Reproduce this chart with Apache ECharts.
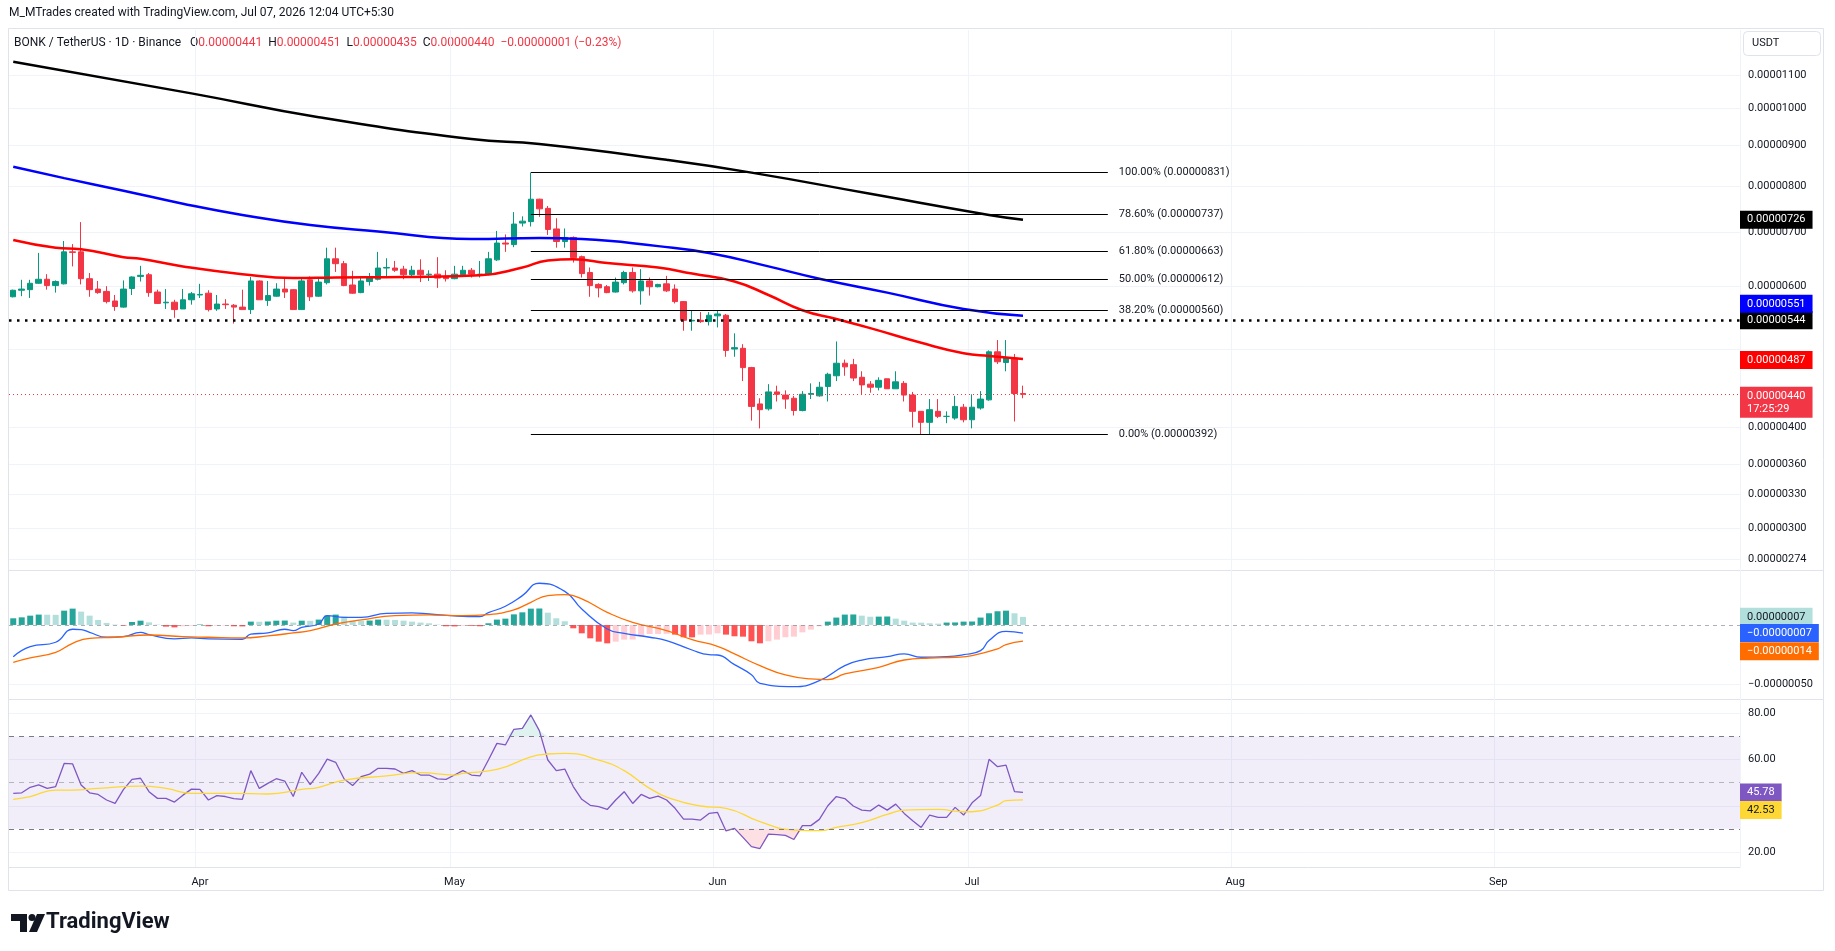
<!DOCTYPE html>
<html>
<head>
<meta charset="utf-8">
<title>BONK / TetherUS 1D</title>
<script src="https://cdn.jsdelivr.net/npm/echarts@6.0.0/dist/echarts.min.js"></script>
<style>
html, body { margin: 0; padding: 0; background: #fff; }
#chart { width: 1835px; height: 951px; }
</style>
</head>
<body>
<div id="chart"></div>
<script>
var chart = echarts.init(document.getElementById('chart'));
var FONT = 'Roboto, "Noto Sans", sans-serif';

// x axis: one category per day, Mar 10 .. Sep 29 2026
var dates = [];
for (var d = new Date(Date.UTC(2026, 2, 10)); d <= new Date(Date.UTC(2026, 8, 29)); d.setUTCDate(d.getUTCDate() + 1)) {
    dates.push(d.toISOString().slice(0, 10));
}
var months = ['Jan', 'Feb', 'Mar', 'Apr', 'May', 'Jun', 'Jul', 'Aug', 'Sep', 'Oct', 'Nov', 'Dec'];

// prices are kept in units of 1e-8 USDT (441 -> 0.00000441), one value per day from Mar 10
var openP = [582,593,594,605,612,601,604,662,662,613, 595,591,575,565,596,617,620,590,572,573,
    562,577,585,588,562,570,568,565,561,609, 576,583,595,594,561,611,583,606,649,640,
    602,589,608,612,632,632,630,620,628,620, 621,617,613,620,628,620,620,647,679,676,
    719,722,770,750,707,682,690,653,624,603, 599,590,606,624,592,609,599,604,595,574,
    543,544,542,551,552,501,502,475,428,422, 443,439,435,420,440,438,450,464,481,479,
    462,453,449,460,447,454,439,419,406,419, 413,411,424,409,423,433,497,482,488,441];
var highP = [594,611,611,660,621,610,683,677,721,623, 609,600,585,610,617,636,623,594,595,577,
    595,590,604,593,585,578,570,594,616,610, 609,605,613,595,613,617,616,670,670,645,
    627,617,623,662,650,645,636,636,648,628, 652,628,636,636,632,645,662,703,696,742,
    733,831,771,755,729,708,692,655,633,605, 602,615,627,633,630,615,604,618,603,575,
    560,557,557,560,554,524,508,476,435,453, 451,445,438,444,454,456,468,512,486,487,
    470,457,462,460,470,457,443,419,434,434, 419,438,428,440,444,499,514,514,494,451];
var lowP = [581,583,580,604,594,589,603,635,603,582, 587,571,559,564,585,608,582,570,562,548,
    562,569,580,558,559,562,539,561,554,577, 567,582,580,561,561,575,582,603,625,600,
    587,588,601,610,614,625,612,617,607,609, 597,608,612,618,615,615,619,645,662,671,
    712,712,732,695,670,670,642,615,582,581, 588,589,603,589,569,584,598,590,571,528,
    528,540,536,533,490,490,457,408,399,420, 431,422,414,419,434,437,431,457,464,457,
    439,442,445,447,447,431,400,392,392,411, 405,409,406,399,421,432,480,470,407,435];
var closeP = [593,595,605,612,601,608,662,661,613,594, 589,574,566,595,616,619,589,571,573,561,
    577,587,586,561,570,569,565,561,609,577, 584,595,590,561,609,582,607,649,640,601,
    588,609,616,632,633,628,620,628,620,621, 614,613,621,628,621,621,649,679,677,717,
    723,770,749,706,682,690,651,622,601,597, 589,607,624,592,609,599,603,592,574,544,
    544,542,552,554,499,503,475,425,421,443, 440,434,420,440,441,449,466,481,476,461,
    452,449,458,447,456,439,419,406,421,413, 413,425,409,424,434,497,483,489,441,440];

var ma200 = [[0,1142],[21,1043],[36,974],[54,915],[62,902],[77,862],[87,831],[101,782],[115,736],[119,726]];
var ma100 = [[0,845],[6,818],[13,789],[20,760],[27,736],[35,715],[43,702],[54,687],[62,689],[67,687],
    [76,673],[82,660],[89,635],[95,613],[103,589],[112,562],[119,551]];
var ma50 = [[0,685],[5,670],[8,667],[13,652],[15,649],[20,635],[27,621],[33,614],[38,615],[46,616],
    [55,619],[60,633],[63,646],[66,648],[70,641],[76,633],[80,622],[85,608],[89,585],[93,560],
    [97,546],[101,532],[107,510],[112,495],[115,491],[119,487]];

// fibonacci retracement (May 10 high -> low), drawn May 10 .. Jul 17
var fibNames = ['100.00%', '78.60%', '61.80%', '50.00%', '38.20%', '0.00%'];
var fibPrices = [831, 737, 663, 612, 560, 392];
var fibFrom = 61, fibTo = 129;
var supportLevel = 544;

// MACD, units of 1e-8
var macdHist = [5.6,6.4,7.8,8.7,8.6,8.5,12.0,13.7,11.2,7.8, 4.2,1.7,0.3,-0.5,2.5,3.6,2.2,0.3,-1.4,-2.0,
    -1.1,-0.6,0.4,-1.1,-0.6,-0.5,-1.1,-1.2,2.8,2.7, 2.9,3.6,3.7,2.0,3.6,3.5,4.5,7.8,8.7,7.0,
    3.6,3.5,3.7,4.5,4.4,4.2,3.6,2.8,2.0,1.4, 0.3,-1.1,-1.2,-0.6,-0.7,-1.1,1.4,4.5,5.3,8.9,
    10.6,13.7,13.8,10.3,5.6,3.1,-2.8,-7.0,-11.2,-14.0, -15.4,-14.0,-12.3,-12.2,-9.2,-7.6,-7.5,-7.4,-8.1,-10.3,
    -10.4,-8.1,-8.0,-7.0,-8.1,-9.5,-9.8,-13.7,-15.4,-13.7, -12.3,-10.3,-9.8,-6.2,-3.9,-1.1,2.8,6.2,8.7,8.8,
    7.8,6.9,7.0,7.1,5.3,3.6,2.0,1.9,1.4,1.1, 2.0,2.1,2.8,2.9,6.2,9.8,11.5,12.0,9.8,6.8];
var macdLine = [[0,-26.6],[2,-18.2],[5,-14.5],[7,-3.6],[8,-3.9],[9,-6.2],[11,-10.3],[13,-9.8],[15,-6.2],[16,-8.1],
    [19,-11.7],[21,-10.9],[23,-11.7],[27,-12.0],[28,-7.6],[30,-6.7],[32,-3.6],[33,-4.8],[34,-2.0],[36,0.8],
    [37,7.8],[39,6.4],[41,6.4],[44,9.8],[47,10.1],[49,9.2],[52,7.6],[55,7.0],[56,10.3],[58,15.7],
    [60,24.6],[62,35.0],[65,28.2],[67,13.4],[70,-3.4],[72,-7.0],[75,-10.3],[77,-13.1],[80,-21.0],[82,-24.9],
    [83,-25.2],[85,-33.3],[87,-41.7],[88,-48.9],[92,-51.7],[95,-46.7],[98,-34.1],[100,-29.4],[103,-26.6],[105,-24.3],
    [107,-27.1],[110,-26.6],[112,-24.9],[114,-21.5],[115,-13.1],[117,-5.3],[119,-6.8]];
var signalLine = [[0,-31.3],[2,-27.7],[5,-22.9],[7,-15.4],[9,-11.2],[12,-10.3],[16,-8.4],[20,-9.8],[23,-10.3],[27,-10.9],
    [30,-9.2],[33,-6.7],[35,-4.8],[38,0.8],[41,4.2],[45,7.8],[49,8.4],[53,7.8],[56,8.7],[59,12.6],
    [61,19.0],[63,24.6],[65,25.4],[67,21.8],[70,10.6],[73,2.2],[77,-4.8],[80,-12.3],[83,-17.9],[85,-24.3],
    [88,-34.1],[91,-41.9],[94,-45.3],[96,-45.9],[98,-41.1],[102,-35.5],[105,-29.4],[108,-27.7],[111,-27.1],[113,-25.7],
    [116,-20.1],[117,-16.5],[119,-13.6]];

// RSI(14) and its moving average
var rsi = [45.4,45.6,48,49,47.5,48.3,58.3,58.1,49,45.6, 44.9,42.5,41.0,47.1,51.4,51.9,46.1,43.2,43.2,41.6,
    44.6,47.2,47.1,42.5,44.4,44.0,43.1,42.8,55.2,47.5, 49.7,51.7,50.7,44.0,54.5,49.1,54.0,60.2,58.8,51.6,
    48.8,52.6,53.7,56.2,56.2,55.9,54.0,55.2,53.3,53.3, 51.6,51.4,53.3,55.2,53.3,52.9,59.8,67.0,66.3,73.1,
    73.5,79.3,72.5,59.8,55.2,55.9,48.3,42.8,40.2,39.6, 38.4,42.5,46.1,41.0,44.9,43.2,44.2,42.5,38.9,34.2,
    34.2,33.8,36.7,37.1,29.1,30.2,26.3,22.3,21.5,27.7, 27.5,27.2,25.4,31.4,31.4,34.1,40.0,44.0,43.1,39.9,
    38.1,37.8,40.3,38.1,40.7,36.7,33.5,30.6,36.0,35.0, 35.0,39.3,36.0,41.3,44.4,60.1,56.9,57.6,46.1,45.78];
var rsiMa = [[0,42.8],[2,44],[5,46.8],[7,46.8],[10,47.5],[15,48.5],[18,47.5],[21,45.4],[26,45.4],[30,45.1],
    [34,47.1],[36,48],[39,51.1],[44,52.9],[48,54.3],[52,53.3],[53,54],[57,55.7],[61,61.2],[63,62.4],
    [65,62.7],[69,59.8],[72,55.2],[75,47.5],[78,42.5],[81,39.9],[84,38.9],[88,33.1],[92,29.5],[95,29.2],
    [97,30.6],[100,32.7],[103,36.3],[105,38.1],[109,38.4],[112,37.4],[113,37.4],[116,40.3],[117,42.2],[119,42.53]];

// axis ticks
var priceTicks = [1100, 1000, 900, 800, 700, 600, 400, 360, 330, 300, 274];
var priceGrid = [1100, 1000, 900, 800, 700, 600, 500, 400, 360, 330, 300, 274];
var macdTicks = [-50];
var rsiTicks = [20, 60, 80];
var rsiGrid = [20, 40, 60, 80];

function fmt(v) {
    var s = (Math.abs(v) / 1e8).toFixed(8);
    return v < 0 ? '\u2212' + s : s;
}
function last(a) { return a[a.length - 1]; }
function pts(a) { return a.map(function (p) { return [p[0], p[1]]; }); }

// price tag on the right scale
function tagLabel(text, bg, fg, dy) {
    return {
        show: true, position: 'end', distance: 0, formatter: text, opacity: 1,
        color: fg || '#fff', backgroundColor: bg, padding: [3, 7, 2, 7],
        fontSize: 11, lineHeight: 13, fontFamily: FONT, offset: [0, dy || 0]
    };
}
function tag(value, text, bg, fg, dy) {
    return {
        yAxis: value,
        lineStyle: { color: 'rgba(0,0,0,0)', width: 0 },
        label: tagLabel(text, bg, fg, dy)
    };
}

var isMonthStart = function (i, v) { return v.slice(8) === '01'; };
function xAxisFor(gi, withLabels) {
    return {
        type: 'category', gridIndex: gi, data: dates, boundaryGap: true,
        axisLine: { show: withLabels, lineStyle: { color: '#e0e3eb' } },
        axisTick: { show: false },
        axisLabel: {
            show: withLabels, interval: isMonthStart, margin: 10,
            formatter: function (v) { return months[+v.slice(5, 7) - 1]; },
            color: '#131722', fontSize: 11, fontFamily: FONT
        },
        splitLine: { show: true, interval: isMonthStart, lineStyle: { color: '#f0f3fa' } }
    };
}
function yLabel(values, formatter) {
    return { customValues: values, formatter: formatter, color: '#131722', fontSize: 11, fontFamily: FONT, margin: 8 };
}

var candles = openP.map(function (o, i) { return [o, closeP[i], lowP[i], highP[i]]; });
var histData = macdHist.map(function (v, i) {
    var prev = i > 0 ? macdHist[i - 1] : 0;
    var c = v >= 0 ? (v >= prev ? '#26A69A' : '#B2DFDB') : (v <= prev ? '#FF5252' : '#FFCDD2');
    return { value: v, itemStyle: { color: c } };
});

var fibLines = fibPrices.map(function (p, k) {
    return [
        { coord: [fibFrom, p], label: { formatter: fibNames[k] + ' (' + fmt(p) + ')' } },
        { coord: [fibTo, p] }
    ];
});

var n = closeP.length;
var chg = closeP[n - 1] - closeP[n - 2];
var chgPct = (chg / closeP[n - 2] * 100).toFixed(2);
var header = '{k|BONK / TetherUS \u00b7 1D \u00b7 Binance}   ' +
    '{k|O}{r|' + fmt(openP[n - 1]) + '}  {k|H}{r|' + fmt(highP[n - 1]) + '}  ' +
    '{k|L}{r|' + fmt(lowP[n - 1]) + '}  {k|C}{r|' + fmt(closeP[n - 1]) + '}  ' +
    '{r|' + fmt(chg) + ' (' + (chg < 0 ? '\u2212' : '') + Math.abs(chgPct) + '%)}';

var option = {
    animation: false,
    backgroundColor: '#fff',
    textStyle: { fontFamily: FONT },
    grid: [
        { left: 9, right: 95, top: 30, height: 540, outerBoundsMode: 'none' },
        { left: 9, right: 95, top: 570, height: 129, outerBoundsMode: 'none' },
        { left: 9, right: 95, top: 699, height: 168, outerBoundsMode: 'none' }
    ],
    xAxis: [xAxisFor(0, false), xAxisFor(1, false), xAxisFor(2, true)],
    yAxis: [
        {
            type: 'log', logBase: 10, gridIndex: 0, position: 'right', min: 265.8, max: 1251,
            axisLine: { show: false },
            axisTick: { show: false, customValues: priceGrid },
            axisLabel: yLabel(priceTicks, fmt),
            splitLine: { show: true, lineStyle: { color: '#f0f3fa' } }
        },
        {
            type: 'value', gridIndex: 1, position: 'right', min: -62.1, max: 46.1,
            axisLine: { show: false },
            axisTick: { show: false, customValues: macdTicks },
            axisLabel: yLabel(macdTicks, fmt),
            splitLine: { show: true, lineStyle: { color: '#f0f3fa' } }
        },
        {
            type: 'value', gridIndex: 2, position: 'right', min: 13.5, max: 86.2,
            axisLine: { show: false },
            axisTick: { show: false, customValues: rsiGrid },
            axisLabel: yLabel(rsiTicks, function (v) { return v.toFixed(2); }),
            splitLine: { show: true, lineStyle: { color: '#f0f3fa' } }
        }
    ],
    series: [
        {
            name: 'BONKUSDT', type: 'candlestick', xAxisIndex: 0, yAxisIndex: 0,
            data: candles, barWidth: 6,
            itemStyle: { color: '#089981', color0: '#F23645', borderColor: '#089981', borderColor0: '#F23645', borderWidth: 1 },
            markLine: {
                silent: true, symbol: 'none', animation: false,
                lineStyle: { color: '#000', width: 1, type: 'solid' },
                label: { show: true, position: 'end', distance: 11, color: '#131722', fontSize: 11, fontFamily: FONT },
                data: fibLines.concat([
                    {
                        yAxis: supportLevel,
                        lineStyle: { color: '#000', width: 2.5, type: [2.5, 5.5] },
                        label: tagLabel(fmt(supportLevel), '#000')
                    },
                    {
                        yAxis: closeP[n - 1],
                        lineStyle: { color: '#F23645', width: 1, type: [1, 3] },
                        label: tagLabel(fmt(closeP[n - 1]) + '\n17:25:29', '#F23645', '#fff', 8)
                    }
                ])
            }
        },
        {
            name: 'MA200', type: 'line', xAxisIndex: 0, yAxisIndex: 0, data: pts(ma200), smooth: true,
            showSymbol: false, lineStyle: { color: '#000', width: 2.5 },
            markLine: { silent: true, symbol: 'none', data: [tag(last(ma200)[1], fmt(last(ma200)[1]), '#000')] }
        },
        {
            name: 'MA100', type: 'line', xAxisIndex: 0, yAxisIndex: 0, data: pts(ma100), smooth: true,
            showSymbol: false, lineStyle: { color: '#0000FF', width: 2.5 },
            markLine: { silent: true, symbol: 'none', data: [tag(last(ma100)[1], fmt(last(ma100)[1]), '#0000FF', '#fff', -12)] }
        },
        {
            name: 'MA50', type: 'line', xAxisIndex: 0, yAxisIndex: 0, data: pts(ma50), smooth: true,
            showSymbol: false, lineStyle: { color: '#FF0000', width: 2.5 },
            markLine: { silent: true, symbol: 'none', data: [tag(last(ma50)[1], fmt(last(ma50)[1]), '#FF0000', '#fff', 1)] }
        },
        {
            name: 'Histogram', type: 'bar', xAxisIndex: 1, yAxisIndex: 1, data: histData, barWidth: 6,
            markLine: {
                silent: true, symbol: 'none',
                data: [
                    { yAxis: 0, lineStyle: { color: 'rgba(120,123,134,0.6)', width: 1, type: [4, 4] }, label: { show: false } },
                    tag(last(macdHist), fmt(last(macdHist)), '#B2DFDB', '#131722')
                ]
            }
        },
        {
            name: 'MACD', type: 'line', xAxisIndex: 1, yAxisIndex: 1, data: pts(macdLine), smooth: true,
            showSymbol: false, lineStyle: { color: '#2962FF', width: 1.3 },
            markLine: { silent: true, symbol: 'none', data: [tag(last(macdLine)[1], fmt(last(macdLine)[1]), '#2962FF')] }
        },
        {
            name: 'Signal', type: 'line', xAxisIndex: 1, yAxisIndex: 1, data: pts(signalLine), smooth: true,
            showSymbol: false, lineStyle: { color: '#FF6D00', width: 1.3 },
            markLine: { silent: true, symbol: 'none', data: [tag(last(signalLine)[1], fmt(last(signalLine)[1]), '#FF6D00', '#fff', 10)] }
        },
        {
            name: 'RSI overbought', type: 'line', xAxisIndex: 2, yAxisIndex: 2, silent: true,
            data: rsi.map(function (v) { return Math.max(v, 70); }),
            showSymbol: false, lineStyle: { width: 0 },
            areaStyle: { origin: 70, color: 'rgba(8,153,129,0.18)' }
        },
        {
            name: 'RSI oversold', type: 'line', xAxisIndex: 2, yAxisIndex: 2, silent: true,
            data: rsi.map(function (v) { return Math.min(v, 30); }),
            showSymbol: false, lineStyle: { width: 0 },
            areaStyle: { origin: 30, color: 'rgba(242,54,69,0.22)' }
        },
        {
            name: 'RSI', type: 'line', xAxisIndex: 2, yAxisIndex: 2, data: rsi,
            showSymbol: false, lineStyle: { color: '#7E57C2', width: 1.3 },
            markArea: { silent: true, itemStyle: { color: 'rgba(126,87,194,0.1)' }, data: [[{ yAxis: 30 }, { yAxis: 70 }]] },
            markLine: {
                silent: true, symbol: 'none',
                data: [
                    { yAxis: 70, lineStyle: { color: '#787B86', width: 1, type: [5, 5] }, label: { show: false } },
                    { yAxis: 50, lineStyle: { color: 'rgba(120,123,134,0.5)', width: 1, type: [5, 5] }, label: { show: false } },
                    { yAxis: 30, lineStyle: { color: '#787B86', width: 1, type: [5, 5] }, label: { show: false } },
                    tag(last(rsi), last(rsi).toFixed(2), '#7E57C2')
                ]
            }
        },
        {
            name: 'RSI MA', type: 'line', xAxisIndex: 2, yAxisIndex: 2, data: pts(rsiMa), smooth: true,
            showSymbol: false, lineStyle: { color: '#FDD835', width: 1.3 },
            markLine: { silent: true, symbol: 'none', data: [tag(last(rsiMa)[1], last(rsiMa)[1].toFixed(2), '#FDD835', '#131722', 10)] }
        }
    ],
    graphic: [
        { type: 'text', left: 9, top: 7, style: { text: 'M_MTrades created with TradingView.com, Jul 07, 2026 12:04 UTC+5:30', fill: '#131722', font: '12px ' + FONT } },
        { type: 'rect', shape: { x: 8.5, y: 28.5, width: 1815, height: 862 }, style: { fill: 'none', stroke: '#e0e3eb', lineWidth: 1 }, silent: true },
        { type: 'line', shape: { x1: 9, y1: 570.5, x2: 1823, y2: 570.5 }, style: { stroke: '#e0e3eb', lineWidth: 1 }, silent: true },
        { type: 'line', shape: { x1: 9, y1: 699.5, x2: 1823, y2: 699.5 }, style: { stroke: '#e0e3eb', lineWidth: 1 }, silent: true },
        {
            type: 'text', left: 14, top: 37,
            style: {
                text: header, font: '12px ' + FONT,
                rich: {
                    k: { fill: '#131722', fontSize: 12, fontFamily: FONT },
                    r: { fill: '#F23645', fontSize: 12, fontFamily: FONT }
                }
            }
        },
        { type: 'rect', shape: { x: 1743.5, y: 31.5, width: 77, height: 24, r: 4 }, style: { fill: '#fff', stroke: '#e0e3eb' } },
        { type: 'text', left: 1752, top: 38, style: { text: 'USDT', fill: '#131722', font: '11px ' + FONT } },
        // TradingView logo
        { type: 'rect', shape: { x: 11, y: 914, width: 16, height: 7 }, style: { fill: '#131722' } },
        { type: 'rect', shape: { x: 20, y: 914, width: 7, height: 18 }, style: { fill: '#131722' } },
        { type: 'circle', shape: { cx: 32, cy: 917.5, r: 3.5 }, style: { fill: '#131722' } },
        { type: 'polygon', shape: { points: [[37, 914], [45, 914], [37, 932], [29, 932]] }, style: { fill: '#131722' } },
        { type: 'text', left: 46, top: 911, style: { text: 'TradingView', fill: '#131722', font: 'bold 22px ' + FONT } }
    ]
};
chart.setOption(option);
</script>
</body>
</html>
